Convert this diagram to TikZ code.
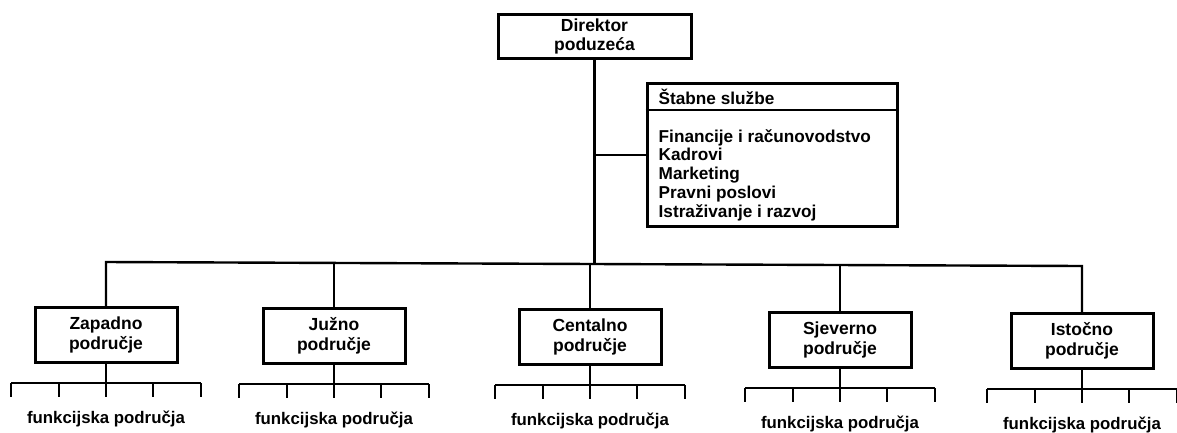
\documentclass[tikz,border=0pt]{standalone}
\usepackage{fontspec}
\setmainfont{Liberation Sans}
\begin{document}
\begin{tikzpicture}[x=1pt,y=-1pt,
  box/.style={draw=black,line width=3pt,fill=white,minimum width=142pt,minimum height=55pt,
    align=center,inner sep=2pt,font=\fontsize{17.5}{19.5}\selectfont\bfseries},
  conn/.style={draw=black,line width=2.4pt},
  lbl/.style={font=\fontsize{16.8}{18}\selectfont\bfseries,inner sep=0pt}]
\useasboundingbox (0,0) rectangle (1177,432);
% director
\node[box,minimum width=193pt,minimum height=44pt] (dir) at (594.5,36.5) {Direktor\\poduzeća};
% staff box
\node[draw=black,line width=3pt,minimum width=250pt,minimum height=143pt,inner sep=0pt] (stab) at (772,155) {};
\coordinate (sepL) at ([yshift=-28pt]stab.north west);
\coordinate (sepR) at ([yshift=-28pt]stab.north east);
\draw[line width=2pt] (sepL) -- (sepR);
\node[lbl,anchor=west,font=\fontsize{17.2}{18}\selectfont\bfseries] (stabh) at ([xshift=13pt,yshift=-15pt]stab.north west) {Štabne službe};
\node[lbl,anchor=north west,align=left,font=\fontsize{17.2}{18.75}\selectfont\bfseries] (stabt) at ([xshift=13pt,yshift=-47pt]stab.north west)
  {Financije i računovodstvo\\Kadrovi\\Marketing\\Pravni poslovi\\Istraživanje i razvoj};
% regions
\node[box] (zap) at (106,335) {Zapadno\\područje};
\node[box] (juz) at (334,336) {Južno\\područje};
\node[box] (cen) at (590,337) {Centalno\\područje};
\node[box] (sje) at (840,340) {Sjeverno\\područje};
\node[box] (ist) at (1082,341) {Istočno\\područje};
% bus
\coordinate (busL) at (106,262);
\coordinate (busR) at (1082,266);
\coordinate (busC) at (594.5,264);
\draw[conn] (dir.south) -- (busC);
\draw[conn] (stab.west) -- (stab.west -| dir.south);
\draw[conn] (zap.north) -- (busL) -- (busR) -- (ist.north);
\draw[conn] (juz.north) -- (juz.north |- 0,263);
\draw[conn] (cen.north) -- (cen.north |- busC);
\draw[conn] (sje.north) -- (sje.north |- 0,265);
% sub-buses
\foreach \r in {zap,juz,cen,sje,ist}{
  \coordinate (\r s) at ([yshift=-19pt]\r.south);
  \draw[conn] (\r.south) -- (\r s);
  \draw[conn] ([xshift=-95pt]\r s) -- ([xshift=95pt]\r s);
  \foreach \dx in {-95,-47,0,47,95}{
    \draw[conn] ([xshift=\dx pt]\r s) -- ([xshift=\dx pt,yshift=-14pt]\r s);
  }
  \node[lbl] (\r l) at ([yshift=-36pt]\r s) {funkcijska područja};
}
\end{tikzpicture}
\end{document}
